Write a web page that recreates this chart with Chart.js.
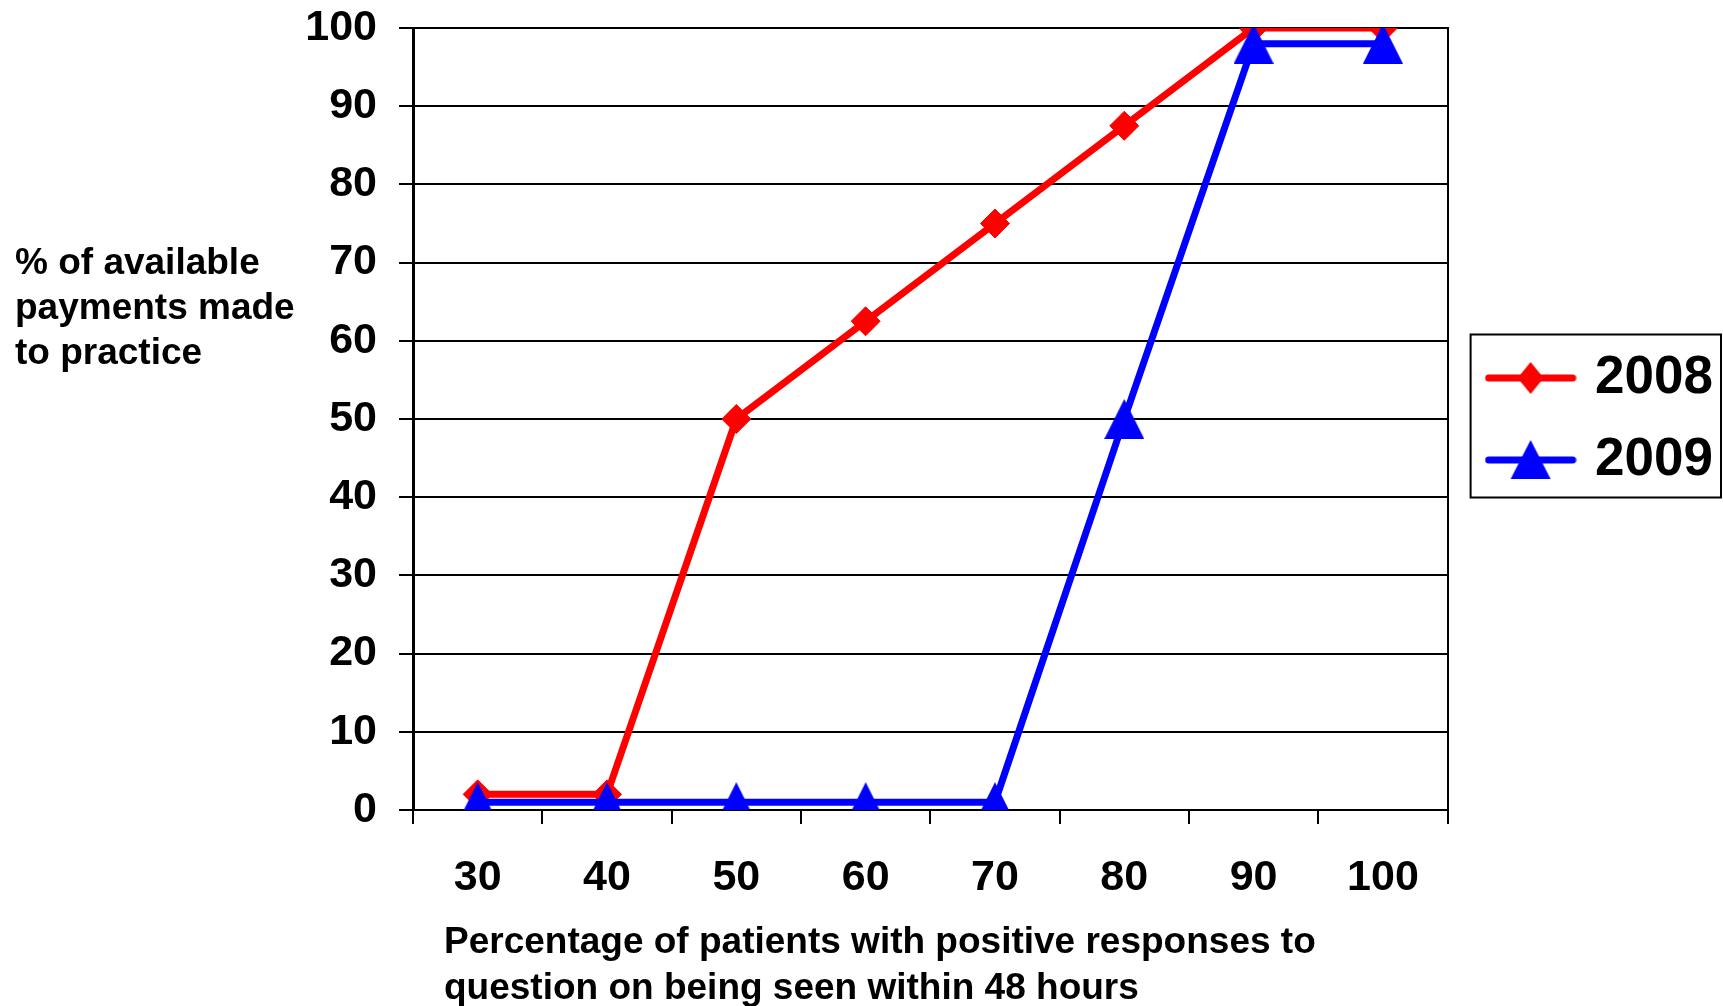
<!DOCTYPE html>
<html>
<head>
<meta charset="utf-8">
<style>
  html, body { margin: 0; padding: 0; background: #fff; }
  #wrap { width: 1723px; height: 1006px; }
</style>
<script src="https://cdn.jsdelivr.net/npm/chart.js@4.4.1/dist/chart.umd.min.js"></script>
</head>
<body>
<div id="wrap"><canvas id="chart" width="1723" height="1006"></canvas></div>
<script>
// data
const categories = ['30', '40', '50', '60', '70', '80', '90', '100'];
const values2008 = [2, 2, 50, 62.5, 75, 87.5, 100, 100];
const values2009 = [1, 1, 1, 1, 1, 50, 98, 98];
const seriesNames = ['2008', '2009'];
const yTitleLines = ['% of available', 'payments made', 'to practice'];
const xTitleLines = ['Percentage of patients with positive responses to', 'question on being seen within 48 hours'];

const RED = '#ff0000';
const BLUE = '#0000ff';
const FONT = '"Liberation Sans", Arial, sans-serif';

Chart.defaults.font.family = FONT;
Chart.defaults.color = '#000';

// triangle marker centred on its box (Excel style)
function makeTriangle(w, h, color) {
    const c = document.createElement('canvas');
    c.width = w; c.height = h;
    const g = c.getContext('2d');
    g.fillStyle = color;
    g.beginPath();
    g.moveTo(w / 2, 0);
    g.lineTo(w, h);
    g.lineTo(0, h);
    g.closePath();
    g.fill();
    return c;
}

// legend sample: line plus marker
function makeLegendIcon(color, marker) {
    const c = document.createElement('canvas');
    c.width = 92; c.height = 42;
    const g = c.getContext('2d');
    g.strokeStyle = color;
    g.lineWidth = 7;
    g.lineCap = 'round';
    g.beginPath();
    g.moveTo(4, 21);
    g.lineTo(88, 21);
    g.stroke();
    g.fillStyle = color;
    g.beginPath();
    if (marker === 'diamond') {
        g.moveTo(46, 5); g.lineTo(59, 21); g.lineTo(46, 37); g.lineTo(33, 21);
    } else {
        g.moveTo(46, 1); g.lineTo(66, 40); g.lineTo(26, 40);
    }
    g.closePath();
    g.fill();
    return c;
}

const triangle = makeTriangle(40, 40, BLUE);
const legendIcons = [makeLegendIcon(RED, 'diamond'), makeLegendIcon(BLUE, 'triangle')];

// axis titles (horizontal, left aligned) and the legend frame
const extras = {
    id: 'extras',
    afterDraw(chart) {
        const ctx = chart.ctx;
        ctx.save();
        ctx.fillStyle = '#000';
        ctx.font = 'bold 37px ' + FONT;
        ctx.textAlign = 'left';
        ctx.textBaseline = 'middle';
        yTitleLines.forEach((t, i) => ctx.fillText(t, 15, 264 + i * 45));
        xTitleLines.forEach((t, i) => ctx.fillText(t, 444, 943 + i * 46));

        const lg = chart.legend;
        if (lg && lg.legendHitBoxes && lg.legendHitBoxes.length) {
            const hb = lg.legendHitBoxes;
            const last = hb[hb.length - 1];
            const x0 = hb[0].left - 22;
            const y0 = hb[0].top - 17;
            const x1 = chart.width - 2;
            const y1 = last.top + last.height + 11;
            ctx.strokeStyle = '#000';
            ctx.lineWidth = 2;
            ctx.strokeRect(x0, y0, x1 - x0, y1 - y0);
        }
        ctx.restore();
    }
};

new Chart(document.getElementById('chart'), {
    type: 'line',
    data: {
        labels: categories,
        datasets: [{
            label: seriesNames[0],
            data: values2008,
            borderColor: RED,
            backgroundColor: RED,
            borderWidth: 7,
            pointStyle: 'rectRot',
            pointRadius: 14.5,
            pointBorderWidth: 1,
            pointBackgroundColor: RED,
            pointBorderColor: RED,
            order: 1
        }, {
            label: seriesNames[1],
            data: values2009,
            borderColor: BLUE,
            backgroundColor: BLUE,
            borderWidth: 7,
            pointStyle: triangle,
            pointRadius: 20,
            order: 0
        }]
    },
    options: {
        responsive: false,
        animation: false,
        layout: { padding: { top: 28, left: 0, right: 0, bottom: 0 } },
        plugins: {
            tooltip: { enabled: false },
            legend: {
                position: 'right',
                fullSize: false,
                labels: {
                    usePointStyle: true,
                    pointStyleWidth: 76,
                    padding: 29,
                    font: { size: 53, weight: 'bold' },
                    color: '#000',
                    generateLabels: chart => seriesNames.map((name, i) => ({
                        text: name,
                        pointStyle: legendIcons[i],
                        fillStyle: 'transparent',
                        strokeStyle: 'transparent',
                        lineWidth: 0,
                        hidden: false,
                        datasetIndex: i
                    }))
                }
            }
        },
        scales: {
            x: {
                offset: true,
                grid: {
                    offset: true,
                    drawOnChartArea: false,
                    tickLength: 14,
                    tickColor: '#000',
                    lineWidth: 2
                },
                border: { color: '#000', width: 2 },
                ticks: {
                    padding: 28,
                    maxRotation: 0,
                    font: { size: 43, weight: 'bold' },
                    color: '#000'
                },
                afterFit: s => { s.height = 196; }
            },
            y: {
                min: 0,
                max: 100,
                grid: {
                    color: '#000',
                    lineWidth: 2,
                    tickLength: 14,
                    tickColor: '#000'
                },
                border: { color: '#000', width: 3 },
                ticks: {
                    stepSize: 10,
                    padding: 22,
                    font: { size: 43, weight: 'bold' },
                    color: '#000'
                },
                afterFit: s => {
                    s.width = 413;
                    s.paddingTop = 10;
                    s.paddingBottom = 10;
                }
            },
            // empty right axis: gives the right frame line and the gap to the legend
            y2: {
                position: 'right',
                grid: { drawOnChartArea: false, drawTicks: false },
                border: { color: '#000', width: 2 },
                ticks: { display: false },
                afterFit: s => {
                    s.width = 16;
                    s.paddingTop = 0;
                    s.paddingBottom = 0;
                }
            }
        }
    },
    plugins: [extras]
});
</script>
</body>
</html>
